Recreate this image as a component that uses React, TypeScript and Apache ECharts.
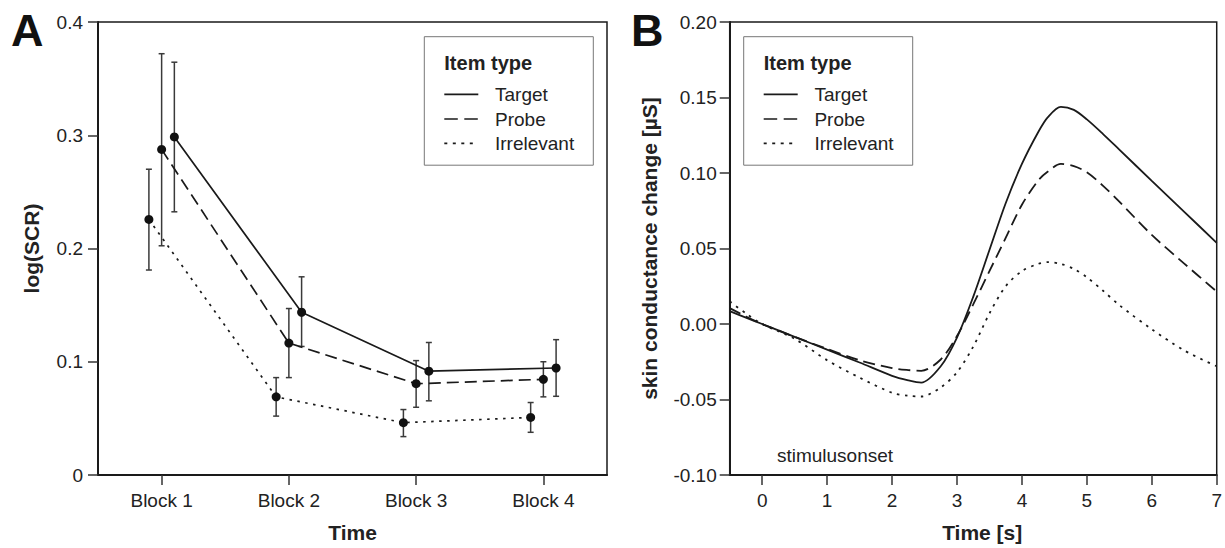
import React, { useEffect, useRef } from "react";
import * as echarts from "echarts";

const FONT = '"Liberation Sans", Arial, Helvetica, sans-serif';

// ---------- Panel A data ----------
const blocks = ["Block 1", "Block 2", "Block 3", "Block 4"];
const blockPos = [1, 2, 3, 4];
const targetMean = [0.2985, 0.1437, 0.0917, 0.0945];
const targetLow = [0.2324, 0.1135, 0.0655, 0.0695];
const targetHigh = [0.3645, 0.175, 0.117, 0.1195];
const probeMean = [0.2875, 0.1165, 0.0806, 0.0845];
const probeLow = [0.2024, 0.086, 0.0598, 0.069];
const probeHigh = [0.372, 0.147, 0.101, 0.1];
const irrMean = [0.2257, 0.069, 0.0462, 0.0508];
const irrLow = [0.181, 0.052, 0.0339, 0.0377];
const irrHigh = [0.27, 0.086, 0.0578, 0.064];
const yTicksA = [0, 0.1, 0.2, 0.3, 0.4];

// ---------- Panel B data ----------
const timeS = [-0.5, -0.25, 0, 0.5, 1, 1.5, 2, 2.25, 2.45, 2.75, 3, 3.25, 3.5, 3.75, 4, 4.25, 4.4, 4.6, 4.8, 5, 5.25, 5.5, 6, 6.5, 7];
const targetCurve = [0.0085, 0.0042, 0, -0.0085, -0.017, -0.0255, -0.0343, -0.0373, -0.0388, -0.028, -0.009, 0.018, 0.049, 0.08, 0.106, 0.127, 0.137, 0.1438, 0.1418, 0.1355, 0.1258, 0.1155, 0.0948, 0.0743, 0.0537];
const probeCurve = [0.0105, 0.005, 0, -0.0085, -0.0165, -0.024, -0.0292, -0.0305, -0.031, -0.0235, -0.008, 0.013, 0.035, 0.057, 0.079, 0.095, 0.101, 0.106, 0.1045, 0.1005, 0.0915, 0.081, 0.059, 0.04, 0.0215];
const irrCurve = [0.015, 0.007, 0, -0.0098, -0.024, -0.0355, -0.0455, -0.0475, -0.048, -0.042, -0.032, -0.015, 0.007, 0.025, 0.035, 0.0398, 0.041, 0.0398, 0.0365, 0.031, 0.022, 0.0125, -0.0035, -0.0175, -0.028];
const xTicksB = [0, 1, 2, 3, 4, 5, 6, 7];

const itemTypes = ["Target", "Probe", "Irrelevant"];
const offsets = [0.1, 0, -0.1];
const dashPlot: any[] = ["solid", [12, 6], [2.5, 5.5]];
const dashLegend: any[] = [null, [13.5, 6.5], [3, 5.5]];

const INK = "#1a1a1a";
const TXT = "#222";

function errorBarRender(params: any, api: any) {
  const x = api.value(0);
  const lo = api.coord([x, api.value(1)]);
  const hi = api.coord([x, api.value(2)]);
  const cw = 3;
  const st = { stroke: "#3a3a3a", lineWidth: 1.5 };
  return {
    type: "group",
    children: [
      { type: "line", shape: { x1: lo[0], y1: lo[1], x2: hi[0], y2: hi[1] }, style: st },
      { type: "line", shape: { x1: lo[0] - cw, y1: lo[1], x2: lo[0] + cw, y2: lo[1] }, style: st },
      { type: "line", shape: { x1: hi[0] - cw, y1: hi[1], x2: hi[0] + cw, y2: hi[1] }, style: st },
    ],
  };
}

function legendGraphic(boxX: number, boxY: number) {
  const w = 169;
  const h = 128.5;
  const lx = boxX + 20;
  const rows = [boxY + 57.6, boxY + 82.3, boxY + 106.6];
  const els: any[] = [
    {
      type: "rect",
      shape: { x: boxX, y: boxY, width: w, height: h },
      style: { fill: "#fff", stroke: "#777", lineWidth: 1 },
      z: 10,
    },
    {
      type: "text",
      x: lx,
      y: boxY + 26,
      style: { text: "Item type", fontFamily: FONT, fontSize: 20, fontWeight: "bold", fill: TXT, align: "left", verticalAlign: "middle" },
      z: 11,
    },
  ];
  itemTypes.forEach((name, i) => {
    els.push({
      type: "line",
      shape: { x1: lx, y1: rows[i], x2: lx + 34, y2: rows[i] },
      style: { stroke: INK, lineWidth: 1.7, lineDash: dashLegend[i] || undefined },
      z: 11,
    });
    els.push({
      type: "text",
      x: lx + 50.7,
      y: rows[i],
      style: { text: name, fontFamily: FONT, fontSize: 19, fill: TXT, align: "left", verticalAlign: "middle" },
      z: 11,
    });
  });
  return els;
}

export default function App() {
  const ref = useRef<HTMLDivElement>(null);
  useEffect(() => {
    if (!ref.current) return;
    const chart = echarts.init(ref.current, undefined, { renderer: "svg" });

    const axisCommon = {
      axisLine: { onZero: false, lineStyle: { color: INK, width: 2 } },
      axisTick: { length: 10, lineStyle: { color: "#333", width: 1.5 } },
      splitLine: { show: false },
    };

    const seriesA: any[] = [];
    const means = [targetMean, probeMean, irrMean];
    const lows = [targetLow, probeLow, irrLow];
    const highs = [targetHigh, probeHigh, irrHigh];
    itemTypes.forEach((name, k) => {
      seriesA.push({
        type: "custom",
        name: name + " SE",
        xAxisIndex: 0,
        yAxisIndex: 0,
        renderItem: errorBarRender,
        encode: { x: 0, y: [1, 2] },
        data: blockPos.map((b, i) => [b + offsets[k], lows[k][i], highs[k][i]]),
        z: 2,
        silent: true,
      });
      seriesA.push({
        type: "line",
        name,
        xAxisIndex: 0,
        yAxisIndex: 0,
        data: blockPos.map((b, i) => [b + offsets[k], means[k][i]]),
        symbol: "circle",
        symbolSize: 9,
        showSymbol: true,
        itemStyle: { color: "#111" },
        lineStyle: { color: INK, width: 1.7, type: dashPlot[k] },
        z: 3,
      });
    });

    const curves = [targetCurve, probeCurve, irrCurve];
    const seriesB: any[] = itemTypes.map((name, k) => ({
      type: "line",
      name: name + " (B)",
      xAxisIndex: 1,
      yAxisIndex: 1,
      data: timeS.map((t, i) => [t, curves[k][i]]),
      showSymbol: false,
      smooth: 0.3,
      lineStyle: { color: INK, width: 1.8, type: dashPlot[k] },
      z: 3,
    }));

    const option: any = {
      animation: false,
      textStyle: { fontFamily: FONT },
      grid: [
        { left: 98, top: 22, width: 509, height: 456.7, show: true, borderColor: INK, borderWidth: 1.5, backgroundColor: "transparent" },
        { left: 729.7, top: 22, width: 492.3, height: 456.7, show: true, borderColor: INK, borderWidth: 1.5, backgroundColor: "transparent" },
      ],
      xAxis: [
        {
          gridIndex: 0,
          type: "value",
          min: 0.5,
          max: 4.5,
          ...axisCommon,
          axisTick: { ...axisCommon.axisTick, customValues: blockPos },
          axisLabel: {
            customValues: blockPos,
            formatter: (v: number) => blocks[Math.round(v) - 1],
            margin: 16,
            fontSize: 19,
            color: TXT,
            fontFamily: FONT,
          },
          name: "Time",
          nameLocation: "middle",
          nameGap: 47,
          nameTextStyle: { fontSize: 21, fontWeight: "bold", color: TXT, fontFamily: FONT },
        },
        {
          gridIndex: 1,
          type: "value",
          min: -0.5,
          max: 7,
          ...axisCommon,
          axisTick: { ...axisCommon.axisTick, customValues: xTicksB },
          axisLabel: {
            customValues: xTicksB,
            margin: 16,
            fontSize: 19,
            color: TXT,
            fontFamily: FONT,
          },
          name: "Time [s]",
          nameLocation: "middle",
          nameGap: 47,
          nameTextStyle: { fontSize: 21, fontWeight: "bold", color: TXT, fontFamily: FONT, padding: [0, 0, 0, 18] },
        },
      ],
      yAxis: [
        {
          gridIndex: 0,
          type: "value",
          min: 0,
          max: 0.4,
          interval: 0.1,
          ...axisCommon,
          axisLabel: {
            customValues: yTicksA,
            formatter: (v: number) => String(Math.round(v * 10) / 10),
            margin: 15,
            fontSize: 19,
            color: TXT,
            fontFamily: FONT,
          },
          name: "log(SCR)",
          nameLocation: "middle",
          nameGap: 56,
          nameTextStyle: { fontSize: 21, fontWeight: "bold", color: TXT, fontFamily: FONT },
        },
        {
          gridIndex: 1,
          type: "value",
          min: -0.1,
          max: 0.2,
          interval: 0.05,
          ...axisCommon,
          axisLabel: {
            formatter: (v: number) => v.toFixed(2),
            margin: 13,
            fontSize: 19,
            color: TXT,
            fontFamily: FONT,
          },
          name: "skin conductance change [µS]",
          nameLocation: "middle",
          nameGap: 70,
          nameTextStyle: { fontSize: 21, fontWeight: "bold", color: TXT, fontFamily: FONT },
        },
      ],
      series: [...seriesA, ...seriesB],
      graphic: [
        {
          type: "text",
          x: 11,
          y: 30,
          style: { text: "A", fontFamily: FONT, fontSize: 45, fontWeight: "bold", fill: "#111", align: "left", verticalAlign: "middle" },
        },
        {
          type: "text",
          x: 631,
          y: 30,
          style: { text: "B", fontFamily: FONT, fontSize: 45, fontWeight: "bold", fill: "#111", align: "left", verticalAlign: "middle" },
        },
        {
          type: "text",
          x: 835,
          y: 455,
          style: { text: "stimulusonset", fontFamily: FONT, fontSize: 19, fill: TXT, align: "center", verticalAlign: "middle" },
        },
        ...legendGraphic(424.3, 36.7),
        ...legendGraphic(743.7, 36.7),
      ],
    };
    chart.setOption(option);
    return () => chart.dispose();
  }, []);

  return (
    <div
      ref={ref}
      style={{ position: "fixed", left: 0, top: 0, width: 1225, height: 548, background: "#fff" }}
    />
  );
}
